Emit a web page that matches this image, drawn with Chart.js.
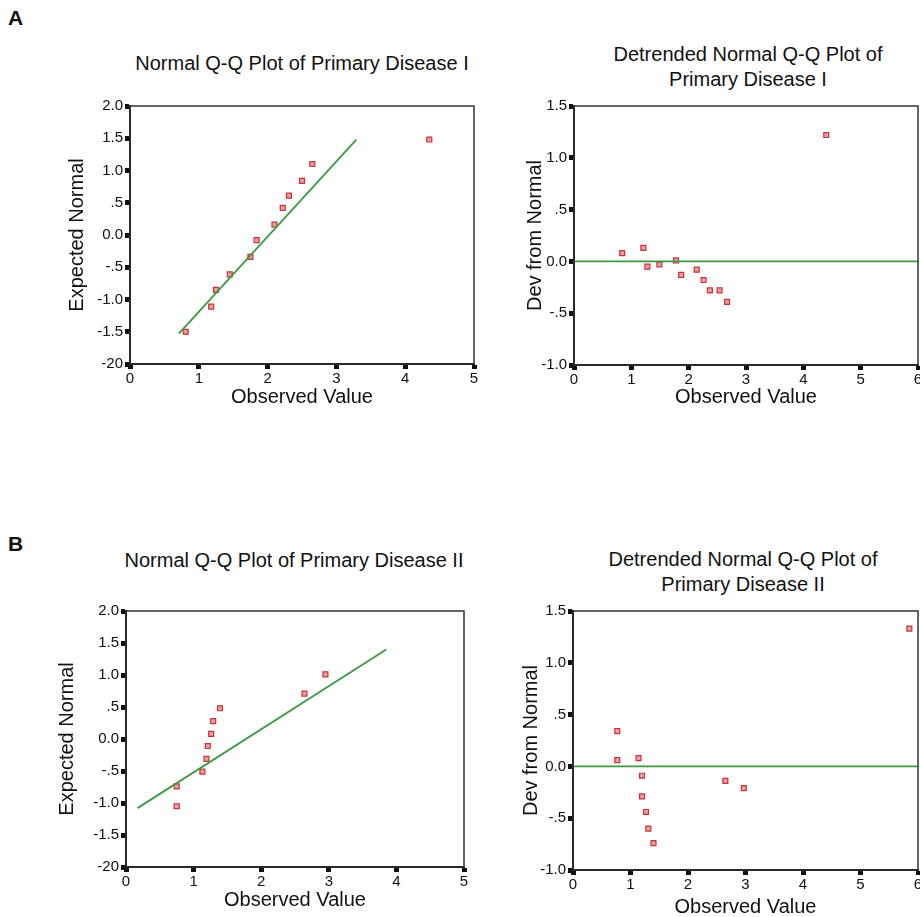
<!DOCTYPE html>
<html>
<head>
<meta charset="utf-8">
<script src="https://cdn.jsdelivr.net/npm/chart.js@4"></script>
<style>
  html, body { margin: 0; padding: 0; background: #fff; overflow: hidden; }
  body { width: 920px; height: 917px; position: relative; font-family: "Liberation Sans", Arial, sans-serif; color: #111; }
  .box { position: absolute; }
  .title { position: absolute; width: 500px; text-align: center; font-size: 20px; line-height: 25px; }
  .letter { position: absolute; font-size: 21px; font-weight: bold; }
</style>
</head>
<body>
<div class="letter" style="left:8px;top:6px;">A</div>
<div class="letter" style="left:8px;top:532px;">B</div>

<div class="title" style="left:52px;top:51px;">Normal Q-Q Plot of Primary Disease I</div>
<div class="title" style="left:498px;top:42px;">Detrended Normal Q-Q Plot of<br>Primary Disease I</div>
<div class="title" style="left:44px;top:548px;">Normal Q-Q Plot of Primary Disease II</div>
<div class="title" style="left:493px;top:547px;">Detrended Normal Q-Q Plot of<br>Primary Disease II</div>

<div class="box" style="left:60px;top:95px;width:430px;height:320px;"><canvas id="qqA"></canvas></div>
<div class="box" style="left:515px;top:95px;width:420px;height:320px;"><canvas id="detA"></canvas></div>
<div class="box" style="left:50px;top:600px;width:430px;height:317px;"><canvas id="qqB"></canvas></div>
<div class="box" style="left:515px;top:600px;width:420px;height:320px;"><canvas id="detB"></canvas></div>

<script>
// Primary Disease I
const obsA = [0.81, 1.18, 1.25, 1.45, 1.75, 1.84, 2.10, 2.22, 2.31, 2.50, 2.65, 4.35];
const expA = [-1.50, -1.11, -0.85, -0.61, -0.34, -0.08, 0.16, 0.42, 0.61, 0.84, 1.10, 1.48];
const detObsA = [0.84, 1.21, 1.28, 1.49, 1.78, 1.87, 2.14, 2.26, 2.37, 2.54, 2.67, 4.40];
const devA = [0.08, 0.13, -0.05, -0.03, 0.01, -0.13, -0.08, -0.18, -0.28, -0.28, -0.39, 1.22];
const lineAx = [0.71, 3.29];
const lineAy = [-1.53, 1.48];

// Primary Disease II
const obsB = [0.75, 0.75, 1.13, 1.19, 1.21, 1.26, 1.29, 1.39, 2.64, 2.95];
const expB = [-0.74, -1.05, -0.51, -0.31, -0.11, 0.08, 0.28, 0.48, 0.71, 1.01];
const detObsB = [0.77, 0.77, 1.14, 1.20, 1.20, 1.27, 1.31, 1.40, 2.65, 2.97, 5.85];
const devB = [0.34, 0.06, 0.08, -0.09, -0.29, -0.44, -0.60, -0.74, -0.14, -0.21, 1.33];
const lineBx = [0.17, 3.85];
const lineBy = [-1.08, 1.40];

const zeroLineX = [0, 6];
const zeroLineY = [0, 0];

Chart.defaults.font.family = '"Liberation Sans", Arial, sans-serif';
Chart.defaults.color = '#111';

function pts(xs, ys) {
  return xs.map((x, i) => ({ x: x, y: ys[i] }));
}

function tickLabel(v) {
  if (v === 0) return '0.0';
  if (v === -2) return '-20';
  let s = v.toFixed(1);
  if (Math.abs(v) < 1) s = s.replace('0.', '.');
  return s;
}

// box round the plot area, as in the SPSS output
const frame = {
  id: 'frame',
  afterDraw(chart) {
    const a = chart.chartArea;
    const ctx = chart.ctx;
    ctx.save();
    ctx.strokeStyle = '#333';
    ctx.lineWidth = 1.5;
    ctx.strokeRect(a.left, a.top, a.right - a.left, a.bottom - a.top);
    ctx.restore();
  }
};

function makeChart(id, cfg) {
  const canvas = document.getElementById(id);
  new Chart(canvas, {
    type: 'scatter',
    data: {
      datasets: [{
        type: 'line',
        data: pts(cfg.lineX, cfg.lineY),
        borderColor: '#3d9a43',
        borderWidth: 1.8,
        pointRadius: 0,
        fill: false
      }, {
        data: pts(cfg.xs, cfg.ys),
        pointStyle: 'rect',
        pointRadius: 3.5,
        borderWidth: 1.2,
        borderColor: '#c8343a',
        backgroundColor: '#e8a0a2'
      }]
    },
    options: {
      responsive: true,
      maintainAspectRatio: false,
      animation: false,
      events: [],
      layout: { autoPadding: false, padding: { top: cfg.top, right: cfg.right, left: 0, bottom: 0 } },
      plugins: { legend: { display: false }, tooltip: { enabled: false } },
      scales: {
        x: {
          type: 'linear',
          min: 0,
          max: cfg.xMax,
          afterFit: s => { s.height = cfg.xH; },
          ticks: { stepSize: 1, padding: 1, font: { size: 15 }, color: '#111', callback: v => String(v) },
          grid: { drawOnChartArea: false, drawTicks: true, tickLength: 5, tickWidth: 5, tickColor: '#111' },
          border: { display: true, color: '#111', width: 2 },
          title: { display: true, text: 'Observed Value', font: { size: 20 }, color: '#111', padding: { top: 0, bottom: cfg.xPad } }
        },
        y: {
          type: 'linear',
          min: cfg.yMin,
          max: cfg.yMax,
          afterFit: s => { s.width = cfg.yW; },
          ticks: { stepSize: 0.5, padding: 2, font: { size: 15 }, color: '#111', callback: tickLabel },
          grid: { drawOnChartArea: false, drawTicks: true, tickLength: 5, tickWidth: 5, tickColor: '#111' },
          border: { display: true, color: '#111', width: 2 },
          title: { display: true, text: cfg.yTitle, font: { size: 20 }, color: '#111', padding: { top: cfg.yPad, bottom: 0 } }
        }
      }
    },
    plugins: [frame]
  });
}

makeChart('qqA', {
  xs: obsA, ys: expA, lineX: lineAx, lineY: lineAy,
  xMax: 5, yMin: -2, yMax: 2, yTitle: 'Expected Normal',
  top: 8, right: 16, yW: 70, xH: 51, xPad: 6, yPad: 5
});
makeChart('detA', {
  xs: detObsA, ys: devA, lineX: zeroLineX, lineY: zeroLineY,
  xMax: 6, yMin: -1, yMax: 1.5, yTitle: 'Dev from Normal',
  top: 9, right: 17, yW: 59, xH: 50, xPad: 6, yPad: 8
});
makeChart('qqB', {
  xs: obsB, ys: expB, lineX: lineBx, lineY: lineBy,
  xMax: 5, yMin: -2, yMax: 2, yTitle: 'Expected Normal',
  top: 10, right: 16, yW: 76, xH: 50, xPad: 5, yPad: 5
});
makeChart('detB', {
  xs: detObsB, ys: devB, lineX: zeroLineX, lineY: zeroLineY,
  xMax: 6, yMin: -1, yMax: 1.5, yTitle: 'Dev from Normal',
  top: 9, right: 17, yW: 58, xH: 50, xPad: 1, yPad: 4
});
</script>
</body>
</html>
